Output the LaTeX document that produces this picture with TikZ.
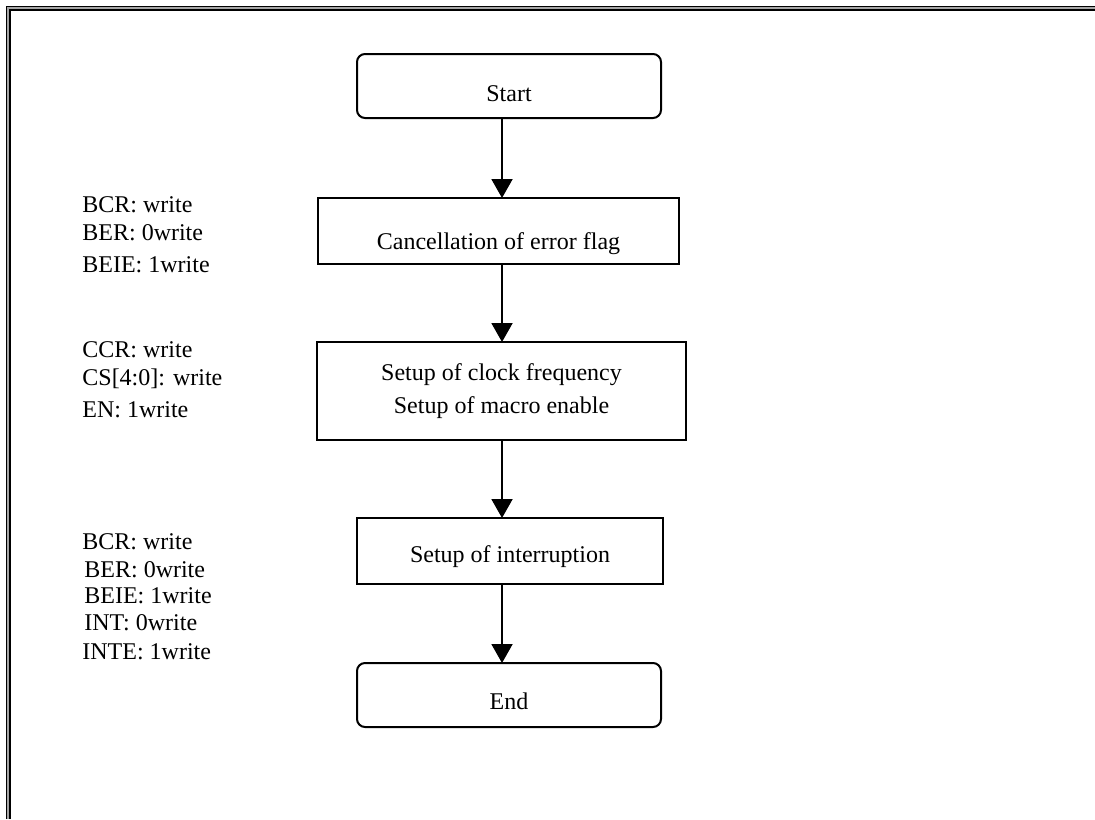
\documentclass[tikz,border=0pt]{standalone}
\usepackage{fontspec}
\setmainfont{Liberation Serif}
\usetikzlibrary{positioning,arrows.meta}

\tikzset{
  stepbox/.style={draw, line width=1pt, inner sep=0pt, outer sep=0pt, align=center,
    font=\fontsize{12}{16.5}\selectfont},
  termbox/.style={stepbox, rounded corners=4pt, minimum width=152pt, minimum height=32pt},
  regtext/.style={anchor=base west, inner sep=0pt, font=\fontsize{12}{14}\selectfont},
  flow/.style={-{Triangle[width=10.5pt,length=9.5pt]}, line width=1pt},
}

\begin{document}
\begin{tikzpicture}[x=0.5pt, y=-0.5pt]
  \useasboundingbox (0,0) rectangle (1095,819);
  % double frame
  \draw[line width=0.8pt] (6.5,819) -- (6.5,6.5) -- (1095,6.5);
  \draw[line width=0.85pt, black!35] (8.2,819) -- (8.2,8.2) -- (1095,8.2);
  \draw[line width=1pt] (10.3,819) -- (10.3,10.3) -- (1095,10.3);
  % Define nodes
  \node[termbox, text height=15pt, text depth=0pt] (start) at (509,86) {Start};
  \node[stepbox, minimum width=180.5pt, minimum height=33pt, text height=18.7pt, text depth=0pt,
    below=40pt of start, xshift=-5.25pt] (cancel) {Cancellation of error flag};
  \node[stepbox, minimum width=184.5pt, minimum height=49pt,
    below=39pt of cancel, xshift=1.5pt] (clock) {Setup of clock frequency\\Setup of macro enable};
  \node[stepbox, minimum width=153pt, minimum height=33pt, text height=11pt, text depth=0pt,
    below=39pt of clock, xshift=4.25pt] (intr) {Setup of interruption};
  \node[termbox, text height=14pt, text depth=0pt,
    below=39.5pt of intr, xshift=-0.5pt] (end) {End};
  % register notes
  \node[regtext] (bcrA) at (82,212) {BCR: write};
  \node[regtext] (berA) at (82,240) {BER: 0write};
  \node[regtext] (beieA) at (82,272) {BEIE: 1write};
  \node[regtext] (ccr) at (82,357) {CCR: write};
  \node[regtext] (cs) at (82,385) {CS[4:0]: write};
  \node[regtext] (en) at (82,417) {EN: 1write};
  \node[regtext] (bcrB) at (82,549) {BCR: write};
  \node[regtext] (berB) at (84,577) {BER: 0write};
  \node[regtext] (beieB) at (84,603) {BEIE: 1write};
  \node[regtext] (int) at (84,630) {INT: 0write};
  \node[regtext] (inte) at (82,659) {INTE: 1write};
  % connect the steps
  \coordinate (axis) at (502,0);
  \draw[flow] (start.south -| axis) -- (cancel.north -| axis);
  \draw[flow] (cancel.south -| axis) -- (clock.north -| axis);
  \draw[flow] (clock.south -| axis) -- (intr.north -| axis);
  \draw[flow] (intr.south -| axis) -- (end.north -| axis);
\end{tikzpicture}
\end{document}
